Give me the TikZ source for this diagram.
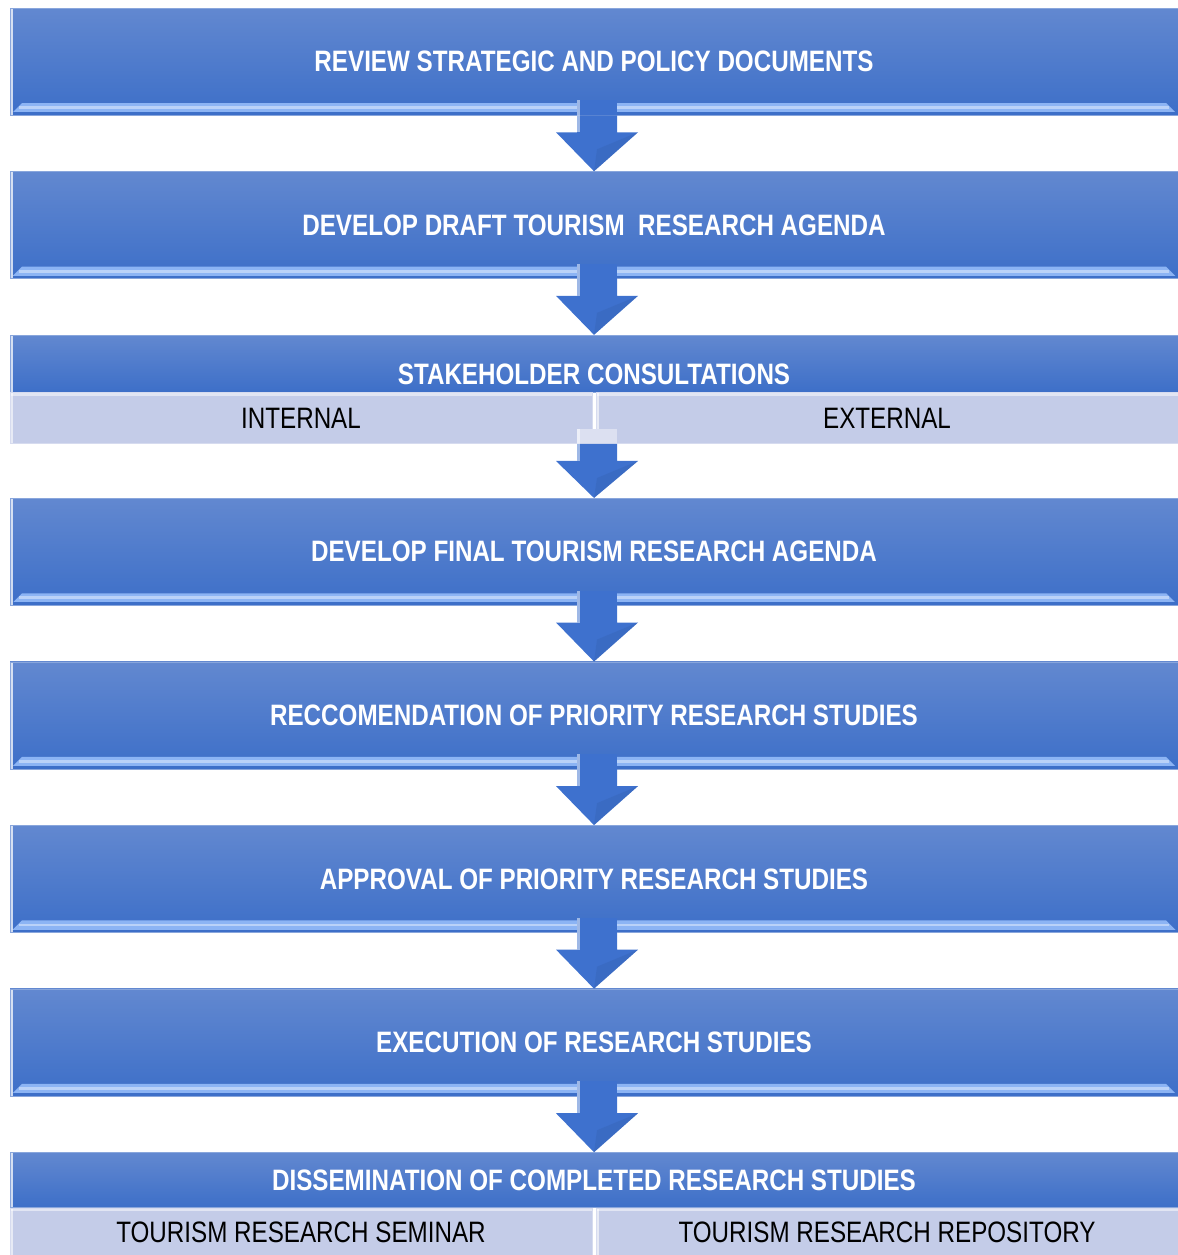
\documentclass[tikz,border=0pt]{standalone}
\usepackage{fontspec}
\setmainfont[FakeStretch=0.82]{Liberation Sans}
\usetikzlibrary{positioning, calc}
\definecolor{boxtop}{RGB}{98, 136, 208}
\definecolor{boxbot}{RGB}{61, 111, 200}
\definecolor{bevlight}{RGB}{140, 180, 244}
\definecolor{subfill}{RGB}{196, 204, 232}
\definecolor{arrblue}{RGB}{62, 113, 206}
\newcommand{\titlefont}{\bfseries\fontsize{21}{25}\selectfont}
\newcommand{\subfont}{\fontsize{21}{25}\selectfont}
% down arrow from a point below box #2 to the top of node #3, upper shaft in colour #1
\newcommand{\flowarrow}[3][arrblue]{%
  \fill[fill=#1] ($(#2)+(-0.5,0.375)$) rectangle ($(#2)+(0.5,0)$);
  \fill[flowarr] ($(#2)+(-0.5,0)$) -- ($(#2)+(0.5,0)$) -- ($(#2)+(0.5,-0.425)$)
    -- ($(#2)+(1.025,-0.425)$) -- (#3.north) -- ($(#2)+(-1.025,-0.425)$)
    -- ($(#2)+(-0.5,-0.425)$) -- cycle;
  \fill[white, opacity=0.5] ($(#2)+(-0.5,0.375)$) rectangle ($(#2)+(-0.42,-0.425)$);
  \fill[arrblue!80!black, opacity=0.25] ($(#2)+(0,-0.85)$) -- ($(#2)+(1.025,-0.425)$) -- (#3.north) -- cycle;
}

\begin{document}
\begin{tikzpicture}[
  node distance=1.4cm,
  blockbase/.style={rectangle, minimum width=29.2cm, inner sep=0pt,
                    top color=boxtop, bottom color=boxbot, draw=boxtop!75!white,
                    text=white, font=\titlefont,
                    path picture={\fill[white, opacity=0.75] (path picture bounding box.south west)
                      rectangle ([xshift=0.08cm]path picture bounding box.north west);}},
  headbox/.style={blockbase},
  stagebox/.style={blockbase, minimum height=2.675cm,
                   path picture={
                     \fill[bevlight]
                       ([shift={(0.3,0.3)}]path picture bounding box.south west)
                       -- ([shift={(-0.3,0.3)}]path picture bounding box.south east)
                       -- (path picture bounding box.south east)
                       -- (path picture bounding box.south west) -- cycle;
                     \fill[bevlight!60!white] ([shift={(0.22,0.22)}]path picture bounding box.south west)
                       rectangle ([shift={(-0.22,0.15)}]path picture bounding box.south east);
                     \fill[boxbot] (path picture bounding box.south west)
                       rectangle ([yshift=0.07cm]path picture bounding box.south east);
                     \fill[white, opacity=0.75] (path picture bounding box.south west)
                       rectangle ([xshift=0.08cm]path picture bounding box.north west);}},
  subbox/.style={rectangle, minimum width=14.55cm, inner sep=0pt, fill=subfill,
                 draw=subfill!70!white, text=black, font=\subfont,
                 path picture={
                   \fill[white, opacity=0.5] ([yshift=-0.08cm]path picture bounding box.north west)
                     rectangle (path picture bounding box.north east);
                   \fill[white, opacity=0.6] (path picture bounding box.south west)
                     rectangle ([xshift=0.08cm]path picture bounding box.north west);}},
  flowarr/.style={fill=arrblue}
]
  \useasboundingbox (0,0) rectangle (29.45,-31.375);
  \node[stagebox] (review) at (14.85,-1.5375) {REVIEW STRATEGIC AND POLICY DOCUMENTS};
  \node[stagebox, below=of review] (draft) {DEVELOP DRAFT TOURISM~ RESEARCH AGENDA};
  \node[headbox, minimum height=1.425cm, text height=1.04cm, text depth=0pt,
        below=of draft] (stake) {STAKEHOLDER CONSULTATIONS};
  \node[subbox, minimum height=1.275cm, anchor=north west] (internal) at (stake.south west) {INTERNAL};
  \node[subbox, minimum height=1.275cm, anchor=north east] (external) at (stake.south east) {EXTERNAL};
  \coordinate (stakebot) at ([xshift=0.075cm]internal.south -| stake.south);
  \node[stagebox, below=1.35cm of stakebot.center -| stake.south] (final) {DEVELOP FINAL TOURISM RESEARCH AGENDA};
  \node[stagebox, below=of final] (recommend) {RECCOMENDATION OF PRIORITY RESEARCH STUDIES};
  \node[stagebox, below=of recommend] (approval) {APPROVAL OF PRIORITY RESEARCH STUDIES};
  \node[stagebox, below=of approval] (execution) {EXECUTION OF RESEARCH STUDIES};
  \node[headbox, minimum height=1.375cm, below=of execution] (dissem) {DISSEMINATION OF COMPLETED RESEARCH STUDIES};
  \node[subbox, minimum height=1.225cm, anchor=north west] (seminar) at (dissem.south west) {TOURISM RESEARCH SEMINAR};
  \node[subbox, minimum height=1.225cm, anchor=north east] (repository) at (dissem.south east) {TOURISM RESEARCH REPOSITORY};
  % arrows
  \flowarrow{$(review.south)+(0.075,0)$}{draft}
  \flowarrow{$(draft.south)+(0.075,0)$}{stake}
  \flowarrow[subfill!60!white]{stakebot}{final}
  \flowarrow{$(final.south)+(0.075,0)$}{recommend}
  \flowarrow{$(recommend.south)+(0.075,0)$}{approval}
  \flowarrow{$(approval.south)+(0.075,0)$}{execution}
  \flowarrow{$(execution.south)+(0.075,0)$}{dissem}
\end{tikzpicture}
\end{document}
